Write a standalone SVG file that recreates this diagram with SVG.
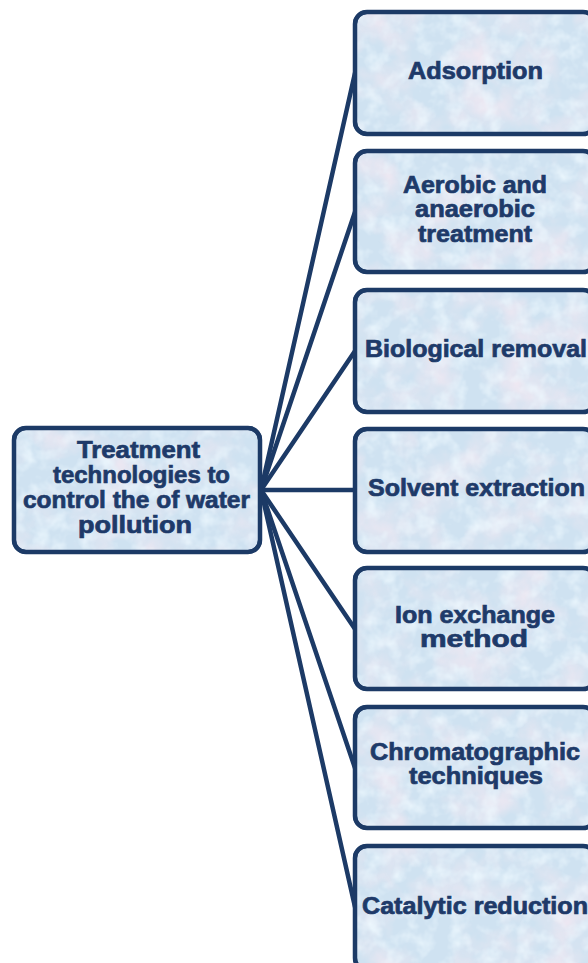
<svg xmlns="http://www.w3.org/2000/svg" width="588" height="963" viewBox="0 0 588 963">
  <defs>
    <filter id="tex" x="0" y="0" width="100%" height="100%">
      <feTurbulence type="fractalNoise" baseFrequency="0.022" numOctaves="4" seed="7" result="n"/>
      <feColorMatrix in="n" type="matrix" result="pink" values="0 0 0 0 0.94  0 0 0 0 0.82  0 0 0 0 0.89  1.7 0 0 0 -0.72"/>
      <feTurbulence type="fractalNoise" baseFrequency="0.06" numOctaves="3" seed="19" result="n2"/>
      <feColorMatrix in="n2" type="matrix" result="light" values="0 0 0 0 0.86  0 0 0 0 0.95  0 0 0 0 1  0 1.8 0 0 -0.8"/>
      <feMerge result="m"><feMergeNode in="pink"/><feMergeNode in="light"/></feMerge>
      <feComposite in="m" in2="SourceGraphic" operator="in"/>
    </filter>
  </defs>
  <style>
    .box { fill: #cfe2f1; stroke: #1c3a66; stroke-width: 4; }
    .texture { fill: #000; filter: url(#tex); }
    .frame { fill: none; stroke: #1c3a66; stroke-width: 4.5; }
    .lbl { font-family: "Liberation Sans", Arial, sans-serif; font-weight: bold; font-size: 23px; fill: #1e3a69; stroke: #1e3a69; stroke-width: 0.7; text-anchor: middle; }
    .conn line { stroke: #1c3a66; stroke-width: 4.5; stroke-linecap: round; }
  </style>
  <rect width="588" height="963" fill="#ffffff"/>

  <g id="connectors" class="conn">
    <line x1="261" y1="490" x2="355" y2="73"/>
    <line x1="261" y1="490" x2="355" y2="212"/>
    <line x1="261" y1="490" x2="355" y2="351"/>
    <line x1="261" y1="490" x2="355" y2="490"/>
    <line x1="261" y1="490" x2="355" y2="629"/>
    <line x1="261" y1="490" x2="355" y2="768"/>
    <line x1="261" y1="490" x2="355" y2="907"/>
  </g>

  <g id="root">
    <rect class="box" x="14" y="428" width="246" height="124" rx="12"/>
    <rect class="texture" x="16" y="430" width="242" height="120" rx="10"/>
    <rect class="frame" x="14" y="428" width="246" height="124" rx="12"/>
    <text class="lbl" x="138.5" y="458" textLength="123" lengthAdjust="spacingAndGlyphs">Treatment</text>
    <text class="lbl" x="141.5" y="483" textLength="177" lengthAdjust="spacingAndGlyphs">technologies to</text>
    <text class="lbl" x="136.5" y="508" textLength="227" lengthAdjust="spacingAndGlyphs">control the of water</text>
    <text class="lbl" x="135" y="533" textLength="114" lengthAdjust="spacingAndGlyphs">pollution</text>
  </g>

  <g id="adsorption">
    <rect class="box" x="355" y="12" width="240" height="122" rx="12"/>
    <rect class="texture" x="357" y="14" width="236" height="118" rx="10"/>
    <rect class="frame" x="355" y="12" width="240" height="122" rx="12"/>
    <text class="lbl" x="475.5" y="79" textLength="135" lengthAdjust="spacingAndGlyphs">Adsorption</text>
  </g>

  <g id="aerobic">
    <rect class="box" x="355" y="151" width="240" height="121" rx="12"/>
    <rect class="texture" x="357" y="153" width="236" height="117" rx="10"/>
    <rect class="frame" x="355" y="151" width="240" height="121" rx="12"/>
    <text class="lbl" x="475" y="193" textLength="144" lengthAdjust="spacingAndGlyphs">Aerobic and</text>
    <text class="lbl" x="475" y="217" textLength="120" lengthAdjust="spacingAndGlyphs">anaerobic</text>
    <text class="lbl" x="475" y="242" textLength="114" lengthAdjust="spacingAndGlyphs">treatment</text>
  </g>

  <g id="biological">
    <rect class="box" x="355" y="290" width="240" height="122" rx="12"/>
    <rect class="texture" x="357" y="292" width="236" height="118" rx="10"/>
    <rect class="frame" x="355" y="290" width="240" height="122" rx="12"/>
    <text class="lbl" x="476" y="357" textLength="222" lengthAdjust="spacingAndGlyphs">Biological removal</text>
  </g>

  <g id="solvent">
    <rect class="box" x="355" y="429" width="240" height="123" rx="12"/>
    <rect class="texture" x="357" y="431" width="236" height="119" rx="10"/>
    <rect class="frame" x="355" y="429" width="240" height="123" rx="12"/>
    <text class="lbl" x="476.5" y="496" textLength="217" lengthAdjust="spacingAndGlyphs">Solvent extraction</text>
  </g>

  <g id="ion">
    <rect class="box" x="355" y="568" width="240" height="121" rx="12"/>
    <rect class="texture" x="357" y="570" width="236" height="117" rx="10"/>
    <rect class="frame" x="355" y="568" width="240" height="121" rx="12"/>
    <text class="lbl" x="475" y="623" textLength="160" lengthAdjust="spacingAndGlyphs">Ion exchange</text>
    <text class="lbl" x="474" y="647" textLength="108" lengthAdjust="spacingAndGlyphs">method</text>
  </g>

  <g id="chromatographic">
    <rect class="box" x="355" y="707" width="240" height="121" rx="12"/>
    <rect class="texture" x="357" y="709" width="236" height="117" rx="10"/>
    <rect class="frame" x="355" y="707" width="240" height="121" rx="12"/>
    <text class="lbl" x="475" y="760" textLength="210" lengthAdjust="spacingAndGlyphs">Chromatographic</text>
    <text class="lbl" x="476" y="784" textLength="134" lengthAdjust="spacingAndGlyphs">techniques</text>
  </g>

  <g id="catalytic">
    <rect class="box" x="355" y="846" width="240" height="124" rx="12"/>
    <rect class="texture" x="357" y="848" width="236" height="120" rx="10"/>
    <rect class="frame" x="355" y="846" width="240" height="124" rx="12"/>
    <text class="lbl" x="475" y="914" textLength="226" lengthAdjust="spacingAndGlyphs">Catalytic reduction</text>
  </g>
</svg>
